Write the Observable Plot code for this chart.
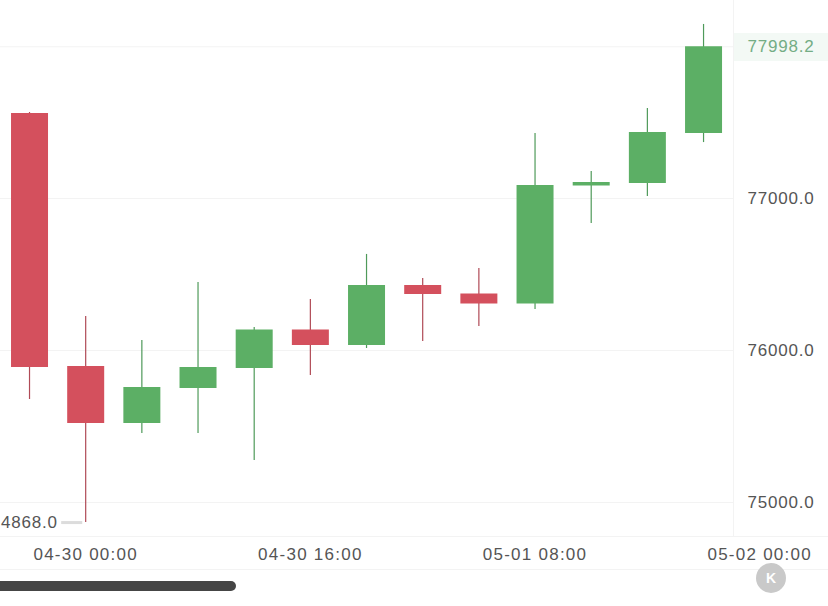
<!DOCTYPE html>
<html>
<head>
<meta charset="utf-8">
<script src="https://cdn.jsdelivr.net/npm/d3@7"></script>
<script src="https://cdn.jsdelivr.net/npm/@observablehq/plot@0.6"></script>
<style>
html,body{margin:0;padding:0;background:#fff;overflow:hidden}
#wrap{position:relative;width:828px;height:606px;overflow:hidden}
#wrap svg{display:block;position:absolute;left:0;top:0;z-index:2}
.line{position:absolute;left:0;width:828px;height:1px;background:#f3f3f3}
#tag{position:absolute;left:733px;top:33px;width:95px;height:28px;background:#f3f9f5}
#scroll{position:absolute;left:-10px;top:581px;width:246px;height:10px;border-radius:5px;background:#454545;z-index:3}
#kbtn{position:absolute;left:756px;top:563px;width:30px;height:30px;border-radius:50%;background:#c9c9c9;color:#fff;font:700 14px/30px "Liberation Sans",sans-serif;text-align:center;z-index:3}
</style>
</head>
<body>
<div id="wrap">
  <div id="tag"></div>
  <div class="line" style="top:536px"></div>
  <div class="line" style="top:569px"></div>
  <div id="scroll"></div>
  <div id="kbtn">K</div>
</div>
<script>
const times = ["2026-04-29T20:00Z","2026-04-30T00:00Z","2026-04-30T04:00Z","2026-04-30T08:00Z","2026-04-30T12:00Z","2026-04-30T16:00Z","2026-04-30T20:00Z","2026-05-01T00:00Z","2026-05-01T04:00Z","2026-05-01T08:00Z","2026-05-01T12:00Z","2026-05-01T16:00Z","2026-05-01T20:00Z"];
const opens  = [77559,75895,75520,75750,75882,76135,76033,76428,76372,76306,77082,77099,77428];
const closes = [75888,75520,75757,75888,76135,76033,76428,76368,76306,77086,77105,77434,77998.2];
const highs  = [77566,76224,76066,76447,76151,76336,76632,76474,76539,77428,77178,77592,78145];
const lows   = [75678,74868,75454,75454,75276,75836,76013,76059,76158,76270,76836,77013,77368];

const xTicks = ["2026-04-30T00:00Z","2026-04-30T16:00Z","2026-05-01T08:00Z","2026-05-02T00:00Z"].map(d => new Date(d));
const yTicks = [75000,76000,77000];
const xDomain = [new Date("2026-04-29T17:56:00Z"), new Date("2026-05-01T22:08:00Z")];
const yDomain = [74776.3, 78302.6];
const lastPrice = closes[closes.length-1];
const minPrice = d3.min(lows);

const GREEN = "#5caf65", RED = "#d4505d", GREEN_W = "#4f9a5a", RED_W = "#b04a56";
const candles = times.map((t,i)=>({t:new Date(t),o:opens[i],c:closes[i],h:highs[i],l:lows[i],up:closes[i]>=opens[i]}));
const lowC = candles.find(d=>d.l===minPrice);
const H = 3600e3;
const fmtX = d3.utcFormat("%m-%d %H:%M");

const chart = Plot.plot({
  width:828, height:606,
  marginLeft:0, marginRight:95, marginTop:0, marginBottom:70,
  x:{type:"utc",domain:xDomain},
  y:{domain:yDomain},
  style:{fontFamily:'"Liberation Sans",sans-serif',fontSize:"17px",letterSpacing:"0.8px",color:"#555",background:"transparent",overflow:"visible"},
  marks:[
    Plot.ruleY([...yTicks,lastPrice],{stroke:"#f3f3f3",strokeWidth:1}),
    Plot.ruleX([xDomain[1]],{stroke:"#f3f3f3",strokeWidth:1,y1:yDomain[0],y2:yDomain[1]}),
    Plot.ruleX(candles,{x:"t",y1:"l",y2:"h",stroke:d=>d.up?GREEN_W:RED_W,strokeWidth:1.2}),
    Plot.ruleX(candles,{x:"t",y1:"o",y2:"c",stroke:d=>d.up?GREEN:RED,strokeWidth:37}),
    Plot.axisX({ticks:xTicks,tickFormat:fmtX,tickSize:0,tickPadding:11,label:null,fill:"#555"}),
    Plot.axisY({anchor:"right",ticks:yTicks,tickFormat:d=>d3.format(".1f")(d),tickSize:0,tickPadding:14,label:null,fill:"#555"}),
    Plot.text([lastPrice],{x:()=>xDomain[1],y:d=>d,text:d=>d3.format(".1f")(d),dx:14,textAnchor:"start",fill:"#74ad85"}),
    Plot.ruleY([minPrice],{x1:()=>new Date(+lowC.t-1.71*H),x2:()=>new Date(+lowC.t-0.21*H),stroke:"#dcdcdc",strokeWidth:3}),
    Plot.text([minPrice],{x:()=>lowC.t,y:d=>d,text:d=>d3.format(".1f")(d),dx:-28,textAnchor:"end",fill:"#555"})
  ]
});
d3.select(chart).selectAll('[aria-label="x-axis tick label"] text').style("letter-spacing","1.25px");
document.getElementById("wrap").appendChild(chart);
</script>
</body>
</html>
